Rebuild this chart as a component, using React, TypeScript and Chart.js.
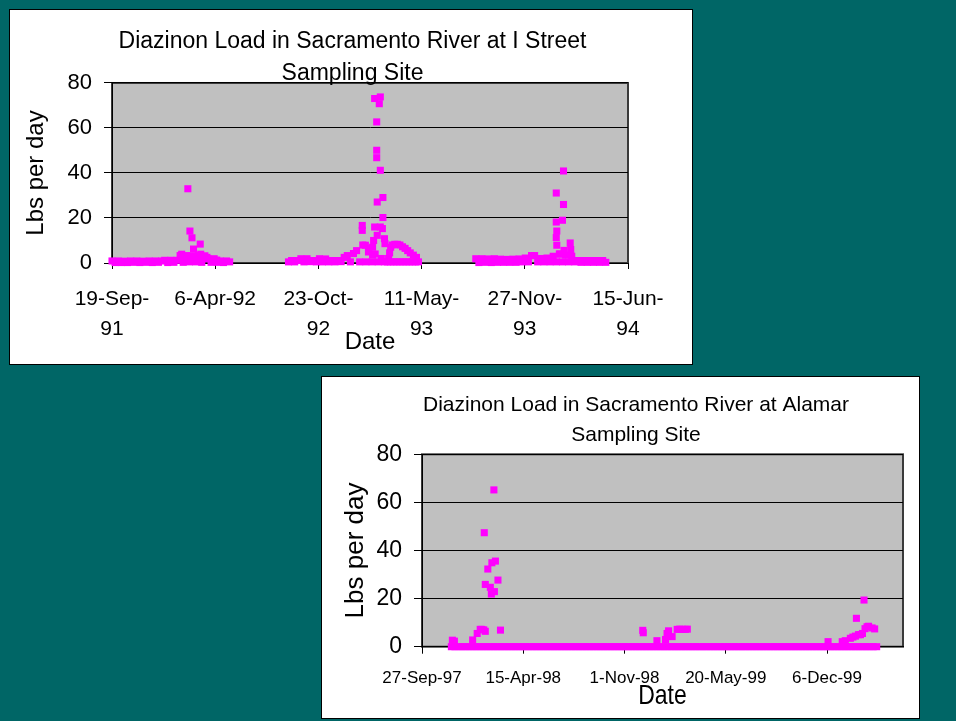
import React, { useEffect, useRef } from "react";
import { Chart, registerables } from "chart.js";

Chart.register(...registerables);

const FONT = "'Liberation Sans', Arial, Helvetica, sans-serif";
const MARKER = "#FF00FF";
const PLOT_BG = "#C0C0C0";
const PAGE_BG = "#006666";

// ---------------- I Street sampling site (1991-1994) ----------------
const iStreetTitle = ["Diazinon Load in Sacramento River at I Street", "Sampling Site"];
const iStreetAxisMin = "1991-09-19";
const iStreetAxisMax = "1994-06-15";
const iStreetTickDates = ["1991-09-19", "1992-04-06", "1992-10-23", "1993-05-11", "1993-11-27", "1994-06-15"];
const iStreetTickLabels: (string | string[])[] = [
  ["19-Sep-", "91"],
  "6-Apr-92",
  ["23-Oct-", "92"],
  ["11-May-", "93"],
  ["27-Nov-", "93"],
  ["15-Jun-", "94"],
];
// low-level daily readings, listed every `iStreetRunStep` days from each start date
const iStreetRunStep = 6;
const iStreetRun1Start = "1991-09-19";
const iStreetRun1 = [
  0.9, 0.2, 0.9, 0.2, 0.8, 0.2, 0.9, 0.3, 0.9, 0.2, 0.8, 0.3, 0.9, 0.2, 0.9, 0.3, 0.9,
  1.2, 0.2, 1.2, 0.3, 1.2,
  3.3, 0.3, 3.3, 0.5, 3.2, 0.5, 3.3, 0.3, 3.2,
  1.9, 0.3, 1.9, 0.3,
  0.9, 0.2, 0.9, 0.5,
];
const iStreetRun2Start = "1992-08-26";
const iStreetRun2 = [
  0.5, 1.1, 0.5, 1.1, 1.9, 0.5, 1.9, 0.6, 1.1, 0.5,
  1.9, 0.5, 1.8, 0.5, 1.1, 0.5, 1.1, 0.6, 2.5, 3.3,
  0.5, 4.2, 5.5, 0.5, 8, 0.5, 6.5, 0.5, 4, 0.5,
  2, 0.5, 0.5, 0.5, 0.5, 0.5, 0.5, 0.5, 0.5, 0.5,
  0.5, 0.5, 0.5,
];
const iStreetRun3Start = "1993-08-24";
const iStreetRun3 = [
  1.9, 0.2, 1.9, 0.3, 1.8, 0.2, 1.9, 0.3, 1.7, 0.3,
  1.6, 0.3, 1.7, 0.3, 1.8, 0.5, 2.2, 0.5, 3.3, 3.3,
  0.5, 2, 0.5, 2.2, 0.5, 3, 0.5, 4, 0.5, 3.5,
  0.5, 3, 0.5, 1.1, 0.3, 1.1, 0.3, 1.1, 0.3, 1.1,
  0.3, 1.1, 0.3,
];
const iStreetPeakDates = [
  "1992-02-01", "1992-02-13", "1992-02-17", "1992-02-21", "1992-02-24", "1992-03-08", "1992-03-09", "1992-03-21", "1992-04-09",
  "1993-01-16", "1993-01-16", "1993-01-22", "1993-01-28", "1993-02-05", "1993-02-05", "1993-02-07", "1993-02-09", "1993-02-09",
  "1993-02-13", "1993-02-13", "1993-02-13", "1993-02-14", "1993-02-14", "1993-02-18", "1993-02-20", "1993-02-20", "1993-02-20",
  "1993-02-24", "1993-02-25", "1993-02-25", "1993-02-28", "1993-03-01",
  "1993-03-08", "1993-03-10", "1993-03-12", "1993-03-15", "1993-03-20", "1993-03-25", "1993-03-30", "1993-04-04", "1993-04-09",
  "1993-04-14", "1993-04-19", "1993-04-25", "1993-05-01",
  "1994-01-27", "1994-01-27", "1994-01-27", "1994-01-28", "1994-01-28", "1994-02-03", "1994-02-08", "1994-02-10", "1994-02-10",
  "1994-02-11", "1994-02-23", "1994-02-24",
];
const iStreetPeakValues = [
  3.9, 33, 14.2, 11.2, 6.2, 8.4, 3.9, 2.5, 1.3,
  16.7, 14.5, 7.9, 4.9, 7, 3.5, 10, 73.1, 16,
  62.7, 50.1, 46.8, 27.1, 12.3, 70.8, 73.8, 41.2, 16,
  15.3, 29.1, 20.2, 10.8, 8.6,
  2, 4.5, 7, 8, 8.3, 8.3, 8, 7.2, 6.5,
  5.5, 4.5, 3.5, 2.5,
  31.1, 18.2, 11.3, 14.2, 7.9, 4, 19, 40.9, 26,
  5.6, 8.9, 6,
];

// ---------------- Alamar sampling site (1997-2000) ----------------
const alamarTitle = ["Diazinon Load in Sacramento River at Alamar", "Sampling Site"];
const alamarAxisMin = "1997-09-27";
const alamarAxisMax = "2000-05-04";
const alamarTickDates = ["1997-09-27", "1998-04-15", "1998-11-01", "1999-05-20", "1999-12-06"];
const alamarTickLabels = ["27-Sep-97", "15-Apr-98", "1-Nov-98", "20-May-99", "6-Dec-99"];
const alamarRunStep = 7;
const alamarRunStart = "1997-11-24";
const alamarRun = [
  0, 0, 0, 0, 0, 0, 0, 0, 0, 0, 0, 0, 0, 0, 0, 0, 0, 0, 0, 0,
  0, 0, 0, 0, 0, 0, 0, 0, 0, 0, 0, 0, 0, 0, 0, 0, 0, 0, 0, 0,
  0, 0, 0, 0, 0, 0, 0, 0, 0, 0, 0, 0, 0, 0, 0, 0, 0, 0, 0, 0,
  0, 0, 0, 0, 0, 0, 0, 0, 0, 0, 0, 0, 0, 0, 0, 0, 0, 0, 0, 0,
  0, 0, 0, 0, 0, 0, 0, 0, 0, 0, 0, 0, 0, 0, 0, 0, 0, 0, 0, 0,
  0, 0, 0, 0, 0, 0, 0, 0, 0, 0, 0, 0, 0, 0, 0, 0, 0, 0, 0, 0,
  0,
];
const alamarPeakDates = [
  "1997-11-26", "1997-11-30", "1998-01-05", "1998-01-14", "1998-01-20", "1998-01-23", "1998-01-27", "1998-01-28",
  "1998-01-30", "1998-01-30", "1998-02-04", "1998-02-09", "1998-02-11", "1998-02-12", "1998-02-16", "1998-02-17",
  "1998-02-19", "1998-02-24", "1998-03-01",
  "1998-12-07", "1998-12-08", "1999-01-04", "1999-01-21", "1999-01-24", "1999-01-27", "1999-02-03", "1999-02-13",
  "1999-02-18", "1999-02-23", "1999-03-01", "1999-03-05",
  "1999-12-08", "2000-01-05", "2000-01-11", "2000-01-21", "2000-01-26", "2000-01-31", "2000-02-02", "2000-02-06",
  "2000-02-10", "2000-02-14", "2000-02-17", "2000-02-19", "2000-02-23", "2000-02-26", "2000-03-04", "2000-03-09",
];
const alamarPeakValues = [
  2.7, 2.3, 2.8, 5.5, 7.2, 7.2, 7, 47.4,
  25.9, 6.4, 32.3, 24.7, 21.9, 34.9, 65.2, 22.9,
  35.6, 27.7, 6.9,
  6.8, 5.8, 2.5, 3, 5.5, 6.6, 4.2, 7.2,
  7.3, 7.2, 7.2, 7.3,
  2.1, 2.1, 2.5, 3.5, 4, 4.4, 11.8, 5,
  5, 5.5, 19.4, 7.5, 8.3, 8.5, 7.8, 7.4,
];

const yMin = 0;
const yMax = 80;
const yStep = 20;
const xTitleText = "Date";
const yTitleText = "Lbs per day";

// ---------------- helpers ----------------
const DAY_MS = 86400000;
const toDay = (iso: string) => Math.round(Date.parse(iso + "T00:00:00Z") / DAY_MS);

function runPoints(start: string, step: number, values: number[]) {
  const d0 = toDay(start);
  return values.map((v, i) => ({ x: d0 + i * step, y: v }));
}
function datedPoints(dates: string[], values: number[]) {
  return dates.map((d, i) => ({ x: toDay(d), y: values[i] }));
}

const plotAreaPlugin = {
  id: "plotArea",
  beforeDraw(chart: any) {
    const { ctx, chartArea: a } = chart;
    ctx.save();
    ctx.fillStyle = PLOT_BG;
    ctx.fillRect(a.left, a.top, a.right - a.left, a.bottom - a.top);
    ctx.strokeStyle = "#3a3a3a";
    ctx.lineWidth = 2;
    ctx.strokeRect(a.left, a.top, a.right - a.left, a.bottom - a.top);
    ctx.restore();
  },
};

type Spec = {
  width: number;
  height: number;
  points: { x: number; y: number }[];
  title: string[];
  titleSize: number;
  titleLH: number;
  titlePad: { top: number; bottom: number };
  padLeft: number;
  padRight: number;
  rightReserve: number;
  yWidth: number;
  yTickSize: number;
  yTitleSize: number;
  yTitlePadTop: number;
  xHeight: number;
  xTickSize: number;
  xTickLH: number;
  xTickLen: number;
  xTickPad: number;
  xTitleSize: number;
  xTitleFromBottom: number;
  xTitleScaleX: number;
  min: string;
  max: string;
  tickDates: string[];
  tickLabels: (string | string[])[];
};

function ScatterPanel({ spec }: { spec: Spec }) {
  const ref = useRef<HTMLCanvasElement | null>(null);
  useEffect(() => {
    if (!ref.current) return;
    const s = spec;
    const condensed = s.xTitleScaleX !== 1;
    // axis title drawn with a horizontal squeeze (narrow face not installed)
    const xTitlePlugin = {
      id: "xTitleCondensed",
      afterDraw(chart: any) {
        if (!condensed) return;
        const { ctx, chartArea: a } = chart;
        ctx.save();
        ctx.font = `${s.xTitleSize}px ${FONT}`;
        ctx.fillStyle = "#000";
        ctx.textAlign = "center";
        ctx.textBaseline = "middle";
        const cx = (a.left + a.right) / 2;
        const cy = chart.height - s.xTitleFromBottom;
        ctx.translate(cx, cy);
        ctx.scale(s.xTitleScaleX, 1);
        ctx.fillText(xTitleText, 0, 0);
        ctx.restore();
      },
    };
    const scales: any = {
      x: {
        type: "linear",
        min: toDay(s.min),
        max: toDay(s.max),
        afterBuildTicks: (sc: any) => {
          sc.ticks = s.tickDates.map((d) => ({ value: toDay(d) }));
        },
        afterFit: (sc: any) => {
          sc.height = s.xHeight;
        },
        grid: {
          display: true,
          drawOnChartArea: false,
          drawTicks: true,
          tickLength: s.xTickLen,
          color: "#000",
          lineWidth: 1,
        },
        border: { display: true, color: "#000", width: 1 },
        ticks: {
          autoSkip: false,
          maxRotation: 0,
          minRotation: 0,
          padding: s.xTickPad,
          color: "#000",
          font: { family: FONT, size: s.xTickSize, lineHeight: s.xTickLH },
          callback: (_v: any, i: number) => s.tickLabels[i],
        },
        title: {
          display: !condensed,
          text: xTitleText,
          color: "#000",
          font: { family: FONT, size: s.xTitleSize, lineHeight: 1.2 },
          padding: { top: 0, bottom: s.xTitleFromBottom - (s.xTitleSize * 1.2) / 2 },
        },
      },
      y: {
        min: yMin,
        max: yMax,
        afterFit: (sc: any) => {
          sc.width = s.yWidth;
        },
        grid: { color: "#000", lineWidth: 1, drawTicks: true, tickLength: 8 },
        border: { display: true, color: "#000", width: 1 },
        ticks: {
          stepSize: yStep,
          padding: 12,
          color: "#000",
          font: { family: FONT, size: s.yTickSize },
        },
        title: {
          display: true,
          text: yTitleText,
          color: "#000",
          font: { family: FONT, size: s.yTitleSize, lineHeight: 1.2 },
          padding: { top: s.yTitlePadTop, bottom: 0 },
        },
      },
    };
    if (s.rightReserve > 0) {
      // empty right-hand margin of the plot (keeps the title centred like the original)
      scales.yRight = {
        position: "right",
        display: true,
        grid: { display: false, drawTicks: false },
        border: { display: false },
        ticks: { display: false },
        afterFit: (sc: any) => {
          sc.width = s.rightReserve;
        },
      };
    }
    const chart = new Chart(ref.current, {
      type: "scatter",
      data: {
        datasets: [
          {
            data: s.points,
            pointStyle: "rect",
            pointRadius: 5,
            pointBorderWidth: 0,
            pointBackgroundColor: MARKER,
            backgroundColor: MARKER,
            borderColor: MARKER,
            showLine: false,
            clip: false,
            yAxisID: "y",
          } as any,
        ],
      },
      options: {
        responsive: false,
        animation: false,
        events: [],
        layout: { padding: { left: s.padLeft, right: s.padRight, top: 0, bottom: 0 } },
        plugins: {
          legend: { display: false },
          tooltip: { enabled: false },
          title: {
            display: true,
            text: s.title,
            color: "#000",
            font: { family: FONT, size: s.titleSize, weight: "normal", lineHeight: s.titleLH },
            padding: s.titlePad,
          },
        },
        scales,
      },
      plugins: [plotAreaPlugin, xTitlePlugin],
    });
    return () => chart.destroy();
  }, [spec]);
  return <canvas ref={ref} width={spec.width} height={spec.height} style={{ display: "block" }} />;
}

const iStreetSpec: Spec = {
  width: 682,
  height: 354,
  points: [
    ...runPoints(iStreetRun1Start, iStreetRunStep, iStreetRun1),
    ...runPoints(iStreetRun2Start, iStreetRunStep, iStreetRun2),
    ...runPoints(iStreetRun3Start, iStreetRunStep, iStreetRun3),
    ...datedPoints(iStreetPeakDates, iStreetPeakValues),
  ],
  title: iStreetTitle,
  titleSize: 23,
  titleLH: 1.378,
  titlePad: { top: 16, bottom: -6.4 },
  padLeft: 3,
  padRight: 0,
  rightReserve: 64,
  yWidth: 99,
  yTickSize: 22,
  yTitleSize: 24,
  yTitlePadTop: 8.6,
  xHeight: 101,
  xTickSize: 21,
  xTickLH: 1.43,
  xTickLen: 6,
  xTickPad: 15,
  xTitleSize: 24,
  xTitleFromBottom: 22,
  xTitleScaleX: 1,
  min: iStreetAxisMin,
  max: iStreetAxisMax,
  tickDates: iStreetTickDates,
  tickLabels: iStreetTickLabels,
};

const alamarSpec: Spec = {
  width: 597,
  height: 341,
  points: [
    ...runPoints(alamarRunStart, alamarRunStep, alamarRun),
    ...datedPoints(alamarPeakDates, alamarPeakValues),
  ],
  title: alamarTitle,
  titleSize: 21,
  titleLH: 1.405,
  titlePad: { top: 13.5, bottom: 4.8 },
  padLeft: 47,
  padRight: 16,
  rightReserve: 0,
  yWidth: 53,
  yTickSize: 23,
  yTitleSize: 26,
  yTitlePadTop: -28.8,
  xHeight: 71.3,
  xTickSize: 17,
  xTickLH: 1.2,
  xTickLen: 7,
  xTickPad: 14,
  xTitleSize: 28,
  xTitleFromBottom: 22,
  xTitleScaleX: 0.82,
  min: alamarAxisMin,
  max: alamarAxisMax,
  tickDates: alamarTickDates,
  tickLabels: alamarTickLabels,
};

export default function App() {
  return (
    <div
      style={{
        position: "fixed",
        left: 0,
        top: 0,
        width: 956,
        height: 721,
        background: PAGE_BG,
        overflow: "hidden",
      }}
    >
      <div
        style={{
          position: "absolute",
          left: 9,
          top: 9,
          width: 682,
          height: 354,
          border: "1px solid #000",
          background: "#fff",
        }}
      >
        <ScatterPanel spec={iStreetSpec} />
      </div>
      <div
        style={{
          position: "absolute",
          left: 321,
          top: 376,
          width: 597,
          height: 341,
          border: "1px solid #000",
          background: "#fff",
        }}
      >
        <ScatterPanel spec={alamarSpec} />
      </div>
    </div>
  );
}
